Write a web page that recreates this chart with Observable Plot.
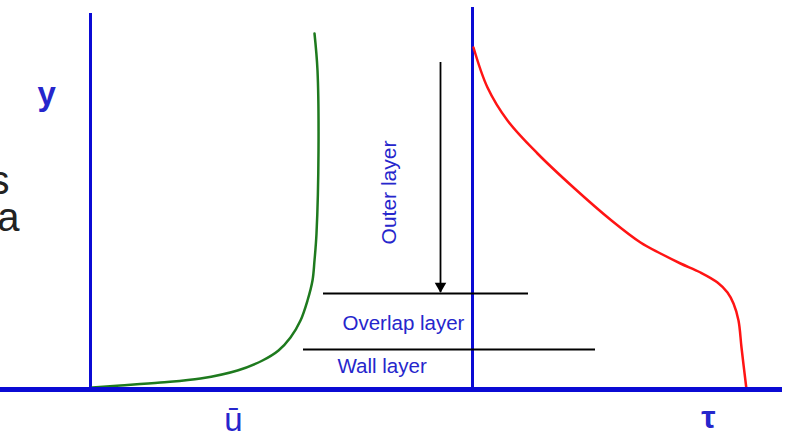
<!DOCTYPE html>
<html>
<head>
<meta charset="utf-8">
<script src="https://cdn.jsdelivr.net/npm/d3@7"></script>
<script src="https://cdn.jsdelivr.net/npm/@observablehq/plot@0.6"></script>
<style>
  html, body { margin: 0; padding: 0; background: white; }
  #chart svg { display: block; overflow: hidden; }
</style>
</head>
<body>
<div id="chart"></div>
<script>
// Mean velocity profile (u-bar) : height above wall vs velocity
const uHeight = [2, 4, 7, 11, 19, 29, 39, 52, 69, 89, 109, 129, 156, 239, 319, 356];
const uValue  = [2, 30, 70, 110, 147, 172, 188, 200, 210, 217, 222, 224, 226, 228, 227, 224];

// Shear stress profile (tau) : height above wall vs stress
const tauHeight = [342, 302, 269, 236, 202, 169, 147, 136, 126, 117, 107, 97, 86, 69, 42, 0];
const tauValue  = [1, 15, 35, 65, 101, 139, 168, 188, 208, 228, 245, 255, 261, 266, 269, 274];

// Layer boundaries (height above wall) and their horizontal extents
const layerNames  = ["Overlap / outer boundary", "Wall / overlap boundary"];
const layerHeight = [96, 40];
const layerFrom   = [323, 303];
const layerTo     = [528, 595];

// Labels
const layerLabels = ["Outer layer", "Overlap layer", "Wall layer"];
const axisLabels  = ["y", "ū", "τ"];

// Layout constants (data units)
const uAxisX = 90, tauAxisX = 472;
const wallEnd = 782;

const blue = "#0b0bd4", textBlue = "#2626cc", green = "#1e7a1e", red = "#ff1414";

const uData = uHeight.map((h, i) => ({h, u: uValue[i]}));
const tauData = tauHeight.map((h, i) => ({h, t: tauValue[i]}));
const layers = layerNames.map((name, i) => ({name, h: layerHeight[i], x1: layerFrom[i], x2: layerTo[i]}));
const arrow = {x: 440, top: 327, bottom: 97};

const font = "Liberation Sans, Arial, Helvetica, sans-serif";

const chart = Plot.plot({
  width: 790,
  height: 432,
  margin: 0,
  x: {domain: [0, 790], axis: null},
  y: {domain: [-43, 389], axis: null},
  style: {background: "white", fontFamily: font, overflow: "hidden"},
  marks: [
    // vertical axes
    Plot.ruleX([uAxisX], {y1: 0, y2: 376, stroke: blue, strokeWidth: 3}),
    Plot.ruleX([tauAxisX], {y1: 0, y2: 382, stroke: blue, strokeWidth: 3}),
    // profiles
    Plot.line(uData, {x: d => uAxisX + d.u, y: "h", stroke: green, strokeWidth: 2.5, curve: "catmull-rom"}),
    Plot.line(tauData, {x: d => tauAxisX + d.t, y: "h", stroke: red, strokeWidth: 2.5, curve: "catmull-rom"}),
    // wall
    Plot.ruleY([0], {x1: 0, x2: wallEnd, stroke: blue, strokeWidth: 5}),
    // layer boundaries
    Plot.ruleY(layers, {y: "h", x1: "x1", x2: "x2", stroke: "black", strokeWidth: 2}),
    // arrow
    Plot.ruleX([arrow], {x: "x", y1: "top", y2: "bottom", stroke: "black", strokeWidth: 1.8}),
    Plot.dot([arrow], {x: "x", y: "bottom", symbol: "triangle", rotate: 180, r: 4.3, fill: "black", stroke: "none", dy: -6.5}),
    // layer labels
    Plot.text([layerLabels[0]], {x: 395, y: 197, text: d => d, rotate: -90, textAnchor: "middle", lineAnchor: "bottom", fontSize: 21, fill: textBlue}),
    Plot.text([layerLabels[1]], {x: 342, y: 60, text: d => d, textAnchor: "start", lineAnchor: "bottom", fontSize: 20.5, fill: textBlue}),
    Plot.text([layerLabels[2]], {x: 337, y: 17, text: d => d, textAnchor: "start", lineAnchor: "bottom", fontSize: 20.5, fill: textBlue}),
    // axis labels
    Plot.text([axisLabels[0]], {x: 37, y: 285, text: d => d, textAnchor: "start", lineAnchor: "bottom", fontSize: 33, fontWeight: "bold", fill: textBlue}),
    Plot.text([axisLabels[1]], {x: 233, y: -41, text: d => d, textAnchor: "middle", lineAnchor: "bottom", fontSize: 33, fill: textBlue}),
    Plot.text([axisLabels[2]], {x: 708, y: -38, text: d => d, textAnchor: "middle", lineAnchor: "bottom", fontSize: 32, fontWeight: "bold", fill: textBlue}),
    // clipped slide text at left edge
    Plot.text(["s"], {x: 9, y: 196, text: d => d, textAnchor: "end", lineAnchor: "bottom", fontSize: 40, fill: "#222"}),
    Plot.text(["a"], {x: 19, y: 159, text: d => d, textAnchor: "end", lineAnchor: "bottom", fontSize: 40, fill: "#222"})
  ]
});
document.getElementById("chart").appendChild(chart);
</script>
</body>
</html>
